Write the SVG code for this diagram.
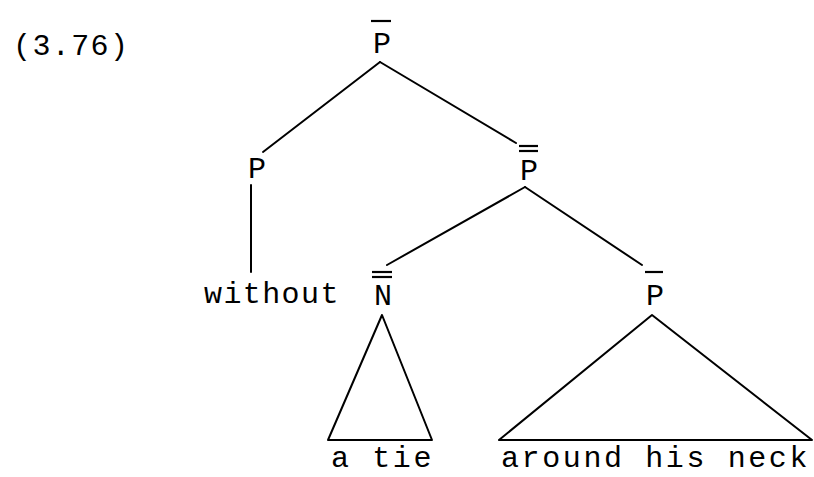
<svg xmlns="http://www.w3.org/2000/svg" width="814" height="477" viewBox="0 0 814 477">
<style>
text{font-family:"Liberation Mono","Courier New",monospace;font-size:30px;fill:#000;letter-spacing:2.6px}
.c{text-anchor:middle;letter-spacing:0}
.w{letter-spacing:1.4px}
.e{stroke:#000;stroke-width:2;fill:none;stroke-linecap:round;stroke-linejoin:round}
.bar{stroke:#000;stroke-width:2.2}
</style>
<rect width="814" height="477" fill="#fff"/>
<text id="label" class="w" x="13" y="55">(3.76)</text>
<g id="connectors">
<line class="e" x1="380" y1="62" x2="263" y2="152"/>
<line class="e" x1="380" y1="62" x2="516" y2="143"/>
<line class="e" x1="251" y1="185" x2="251" y2="272"/>
<line class="e" x1="525" y1="187" x2="387" y2="265"/>
<line class="e" x1="525" y1="187" x2="642" y2="265"/>
<polygon class="e" points="382,315 328,440 432,440"/>
<polygon class="e" points="652,315 499,440 812,440"/>
</g>
<g id="node-pbar-top">
<line class="bar" x1="371" y1="21" x2="391" y2="21"/>
<text class="c" x="382" y="53">P</text>
</g>
<g id="node-p-left">
<text class="c" x="257" y="178">P</text>
</g>
<g id="node-pbarbar">
<line class="bar" x1="519" y1="146" x2="538" y2="146"/>
<line class="bar" x1="519" y1="151" x2="538" y2="151"/>
<text class="c" x="529" y="180">P</text>
</g>
<g id="node-without">
<text class="w" x="204" y="303">without</text>
</g>
<g id="node-nbarbar">
<line class="bar" x1="372" y1="272" x2="392" y2="272"/>
<line class="bar" x1="372" y1="277" x2="392" y2="277"/>
<text class="c" x="383" y="305">N</text>
</g>
<g id="node-pbar-right">
<line class="bar" x1="645" y1="272" x2="663" y2="272"/>
<text class="c" x="655" y="305">P</text>
</g>
<g id="node-a-tie">
<text x="331" y="467">a tie</text>
</g>
<g id="node-around">
<text x="501" y="467">around his neck</text>
</g>
</svg>
